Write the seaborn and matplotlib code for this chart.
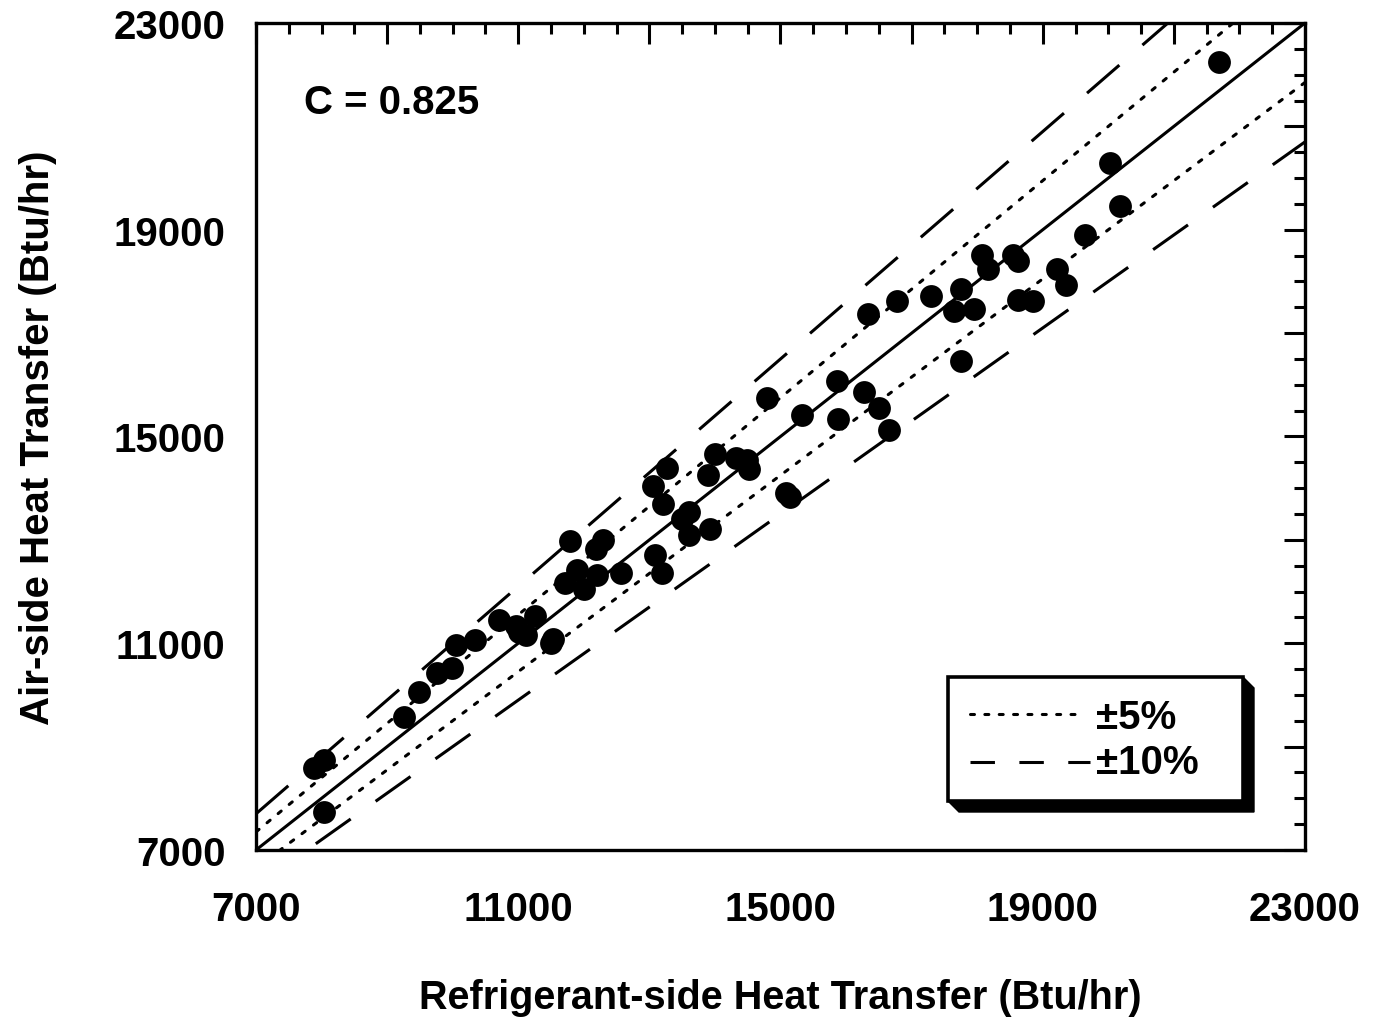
import numpy as np
import pandas as pd
import matplotlib
matplotlib.use("Agg")
import matplotlib.pyplot as plt
import seaborn as sns
from matplotlib.ticker import FixedLocator, MultipleLocator, FuncFormatter
from matplotlib.patches import Rectangle, Polygon
from matplotlib.lines import Line2D

# Measured heat transfer (Btu/hr)
refrigerant_side = [
    7886, 8039, 8039, 9262, 9491, 9766, 9995, 10056, 10347, 10713,
    10973, 11004, 11111, 11263, 11492, 11523, 11707, 11783, 11890, 11997,
    12180, 12195, 12287, 12562, 13051, 13081, 13188, 13204, 13265, 13494,
    13601, 13601, 13892, 13922, 13999, 14320, 14488, 14519, 14794, 15083,
    15145, 15328, 15863, 15878, 16276, 16337, 16505, 16657, 16780, 17300,
    17651, 17758, 17758, 17957, 18079, 18171, 18553, 18629, 18629, 18858,
    19210, 19347, 19637, 20019, 20172, 21685,
]
air_side = [
    8589, 8744, 7736, 9578, 10062, 10430, 10527, 10973, 11070, 11457,
    11341, 11225, 11167, 11535, 11012, 11089, 12174, 12969, 12426, 12058,
    12814, 12329, 12988, 12368, 14035, 12717, 12368, 13686, 14384, 13395,
    13085, 13531, 14248, 13202, 14655, 14577, 14539, 14364, 15740, 13899,
    13822, 15411, 16070, 15333, 15857, 17368, 15547, 15120, 17620, 17717,
    17426, 17853, 16457, 17465, 18512, 18240, 18512, 18395, 17640, 17620,
    18240, 17930, 18899, 20295, 19461, 22252,
]
c_value = 0.825
band_labels = ["\u00b15%", "\u00b110%"]
major_ticks = [7000, 9000, 11000, 13000, 15000, 17000, 19000, 21000, 23000]
labelled_ticks = [7000, 11000, 15000, 19000, 23000]

W, H = 1378, 1020
fig = plt.figure(figsize=(W / 100, H / 100), dpi=100)
sns.set_style("white")
plt.rcParams["font.family"] = ["Liberation Sans", "DejaVu Sans"]
plt.rcParams["font.weight"] = "bold"
plt.rcParams["text.color"] = "black"
plt.rcParams["axes.labelcolor"] = "black"
plt.rcParams["xtick.color"] = "black"
plt.rcParams["ytick.color"] = "black"

ax = fig.add_axes([256 / W, 1 - 851 / H, (1305 - 256) / W, (851 - 24) / H])

lo, hi = 7000, 23000
ref = np.array([lo, hi], dtype=float)
lw = 2.2
dotted = (0, (1.3, 3.4))
dashed = (0, (14, 10))
sns.lineplot(x=ref, y=ref, ax=ax, color="black", lw=lw)
for f in (1.05, 0.95):
    ax.plot(ref, ref * f, color="black", lw=lw, linestyle=dotted,
            dash_capstyle="round")
for f in (1.10, 0.90):
    ax.plot(ref, ref * f, color="black", lw=lw, linestyle=dashed)

df = pd.DataFrame({"ref": refrigerant_side, "air": air_side})
sns.scatterplot(data=df, x="ref", y="air", ax=ax, color="black", s=270,
                edgecolor="black", linewidth=0, zorder=5)

ax.set_xlim(lo, hi)
ax.set_ylim(lo, hi)

fmt = FuncFormatter(lambda v, p: f"{int(round(v))}" if int(round(v)) in labelled_ticks else "")
for axis in (ax.xaxis, ax.yaxis):
    axis.set_major_locator(FixedLocator(major_ticks))
    axis.set_minor_locator(MultipleLocator(500))
    axis.set_major_formatter(fmt)

ax.tick_params(which="both", direction="in", top=True, right=True,
               width=2.2, color="black", labelcolor="black")
ax.tick_params(which="major", length=15)
ax.tick_params(which="minor", length=8)
ax.tick_params(axis="x", which="major", pad=29, labelsize=29)
ax.tick_params(axis="y", which="major", pad=22, labelsize=29)
for sp in ax.spines.values():
    sp.set_linewidth(2.4)
    sp.set_color("black")

ax.set_xlabel("Refrigerant-side Heat Transfer (Btu/hr)", fontsize=28.5,
              labelpad=36, fontweight="bold")
ax.set_ylabel("Air-side Heat Transfer (Btu/hr)", fontsize=29,
              labelpad=41, fontweight="bold")

ax.text(0.046, 0.905, f"C = {c_value}", transform=ax.transAxes,
        fontsize=29, va="center", ha="left", fontweight="bold")

# Legend box with a solid drop shadow, drawn in figure pixels
def fx(px):
    return px / W

def fy(py):
    return 1 - py / H

x0, x1, y0, y1 = 948, 1243, 678, 802
d = 11
shadow = Polygon([(fx(x1), fy(y0)), (fx(x1 + d), fy(y0 + d)),
                  (fx(x1 + d), fy(y1 + d)), (fx(x0 + d), fy(y1 + d)),
                  (fx(x0), fy(y1))], closed=True, transform=fig.transFigure,
                 facecolor="black", edgecolor="black", zorder=8)
fig.add_artist(shadow)
box = Rectangle((fx(x0), fy(y1)), fx(x1) - fx(x0), fy(y0) - fy(y1),
                transform=fig.transFigure, facecolor="white",
                edgecolor="black", lw=2.6, zorder=9)
fig.add_artist(box)

fig.add_artist(Line2D([fx(970), fx(1078)], [fy(715), fy(715)],
                      transform=fig.transFigure, color="black", lw=lw,
                      linestyle=dotted, dash_capstyle="round", zorder=10))
fig.add_artist(Line2D([fx(970), fx(1090)], [fy(763), fy(763)],
                      transform=fig.transFigure, color="black", lw=lw,
                      linestyle=(0, (8, 8)), zorder=10))
fig.text(fx(1096), fy(718), band_labels[0], fontsize=29, va="center",
         ha="left", zorder=10, fontweight="bold")
fig.text(fx(1096), fy(763), band_labels[1], fontsize=29, va="center",
         ha="left", zorder=10, fontweight="bold")

fig.savefig("out.png", dpi=100, facecolor="white")
